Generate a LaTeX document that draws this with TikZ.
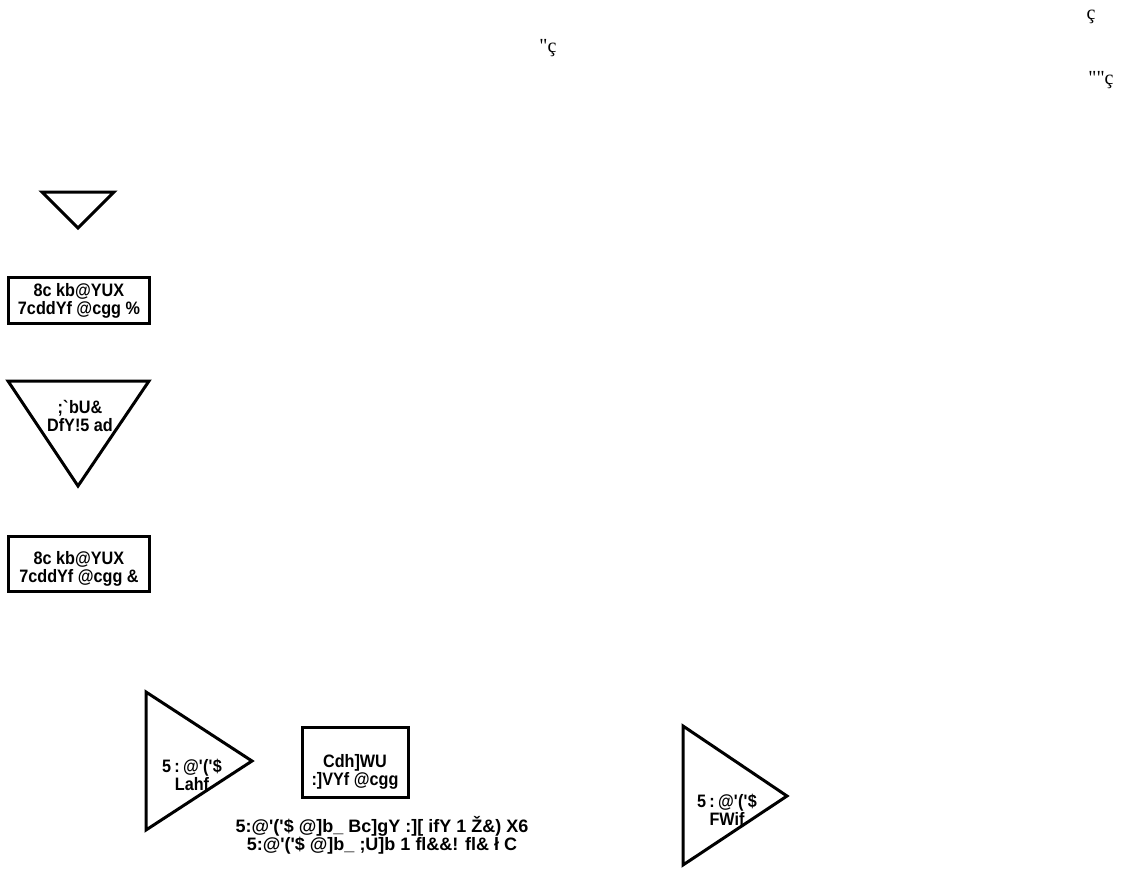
\documentclass[tikz,border=0pt]{standalone}
\usepackage{fontspec}
\setmainfont{Liberation Serif}
\newfontfamily\lab{Liberation Sans}[FakeStretch=0.9]
\newfontfamily\labsp{Liberation Sans}[FakeStretch=0.9,LetterSpace=18]
\newfontfamily\captfont{Liberation Sans}
\newcommand{\sq}{\textquotesingle}
\begin{document}
\begin{tikzpicture}[x=1pt,y=-1pt,
  shp/.style={draw=black,line width=3pt,line join=miter},
  lbl/.style={font=\lab\bfseries\fontsize{18}{18}\selectfont,align=center,inner sep=0pt},
  cpt/.style={font=\captfont\bfseries\fontsize{18}{18}\selectfont,align=center,inner sep=0pt},
  top/.style={font=\fontsize{20}{20}\selectfont,inner sep=0pt}]
\useasboundingbox (0,0) rectangle (1125,886);
% top texts
\node[top] (t1) at (1091,17) {ç};
\node[top] (t2) at (548,48) {\textquotedbl ç};
\node[top] (t3) at (1101,80) {\textquotedbl\textquotedbl ç};
% small triangle
\draw[shp] (42,192) -- (114,192) -- (78,228) -- cycle;
% box 1
\draw[shp] (8,277) rectangle (149,323);
\node[lbl] (b1) at (79,301) {8c kb@YUX\\7cddYf @cgg \%};
% big down triangle
\draw[shp] (8,381) -- (149,381) -- (78,486) -- cycle;
\node[lbl] (tr1) at (80,416) {;\textasciigrave bU\&\\DfY!5 ad};
% box 2
\draw[shp] (8,536) rectangle (149,591);
\node[lbl] (b2) at (79,569) {8c kb@YUX\\7cddYf @cgg \&};
% right triangle 1
\draw[shp] (146,692) -- (252,761) -- (146,830) -- cycle;
\node[lbl] (tr2) at (192,775) {{\labsp 5:@\sq(\sq\$}\\Lahf};
% box 3
\draw[shp] (302,727) rectangle (408,797);
\node[lbl] (b3) at (355,772) {Cdh]WU\\:]VYf @cgg};
% right triangle 2
\draw[shp] (683,726) -- (787,796) -- (683,865) -- cycle;
\node[lbl] (tr3) at (727,810) {{\labsp 5:@\sq(\sq\$}\\FWif};
% caption
\node[cpt] (c1) at (382,835) {5:@\sq(\sq\$ @]b\_ Bc]gY :][ ifY 1 Ž\&) X6\\5:@\sq(\sq\$ @]b\_ ;U]b 1 fl\&\&! fl\& ł C};
\end{tikzpicture}
\end{document}
